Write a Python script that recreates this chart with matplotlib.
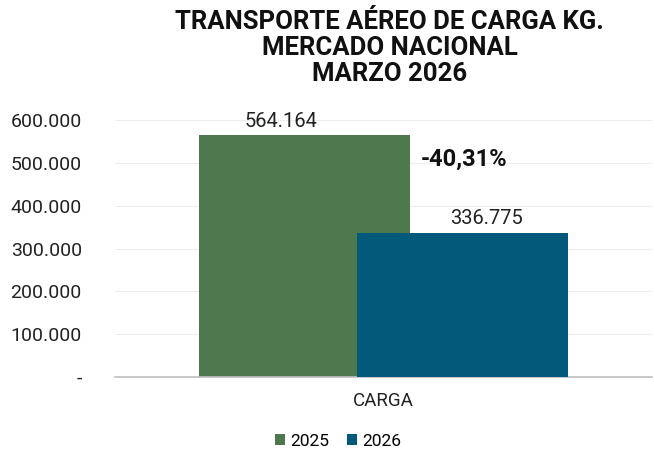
import numpy as np
import matplotlib.pyplot as plt

plt.rcParams['font.family'] = ['Roboto', 'DejaVu Sans']

categories = ['CARGA']
series = ['2025', '2026']
values_2025 = [564164]
values_2026 = [336775]
variation = '-40,31%'
colors = ['#4E784D', '#03597A']

def fmt_miles(v):
    if v == 0:
        return '-'
    return f'{v:,.0f}'.replace(',', '.')

fig = plt.figure(figsize=(6.54, 4.49), dpi=100)
ax = fig.add_axes([0.176, 0.160, 0.821, 0.573])

x = np.arange(len(categories))
w = 0.393
off = 0.1466
b1 = ax.bar(x - off, values_2025, w, color=colors[0], label=series[0], zorder=2)
b2 = ax.bar(x + off, values_2026, w, color=colors[1], label=series[1], zorder=3)

# excel pushes the labels outward a bit
for bars, vals, dx in [(b1, values_2025, -0.045), (b2, values_2026, 0.045)]:
    for r, v in zip(bars, vals):
        ax.text(r.get_x() + r.get_width() / 2 + dx, v + 11000, fmt_miles(v),
                ha='center', va='bottom', fontsize=14.5, color='#222222')

ax.text(x[0] + 0.07, 507000, variation, ha='left', va='center',
        fontsize=17, fontweight='bold', color='#111111')

ax.set_xlim(-0.5, 0.5)
ax.set_ylim(0, 600000)
ticks = np.arange(0, 600001, 100000)
ax.set_yticks(ticks)
ax.set_yticklabels([fmt_miles(t) for t in ticks])
ax.set_xticks(x)
ax.set_xticklabels(categories)
ax.tick_params(axis='both', length=0, colors='#222222')
ax.tick_params(axis='y', pad=24, labelsize=14)
ax.tick_params(axis='x', pad=11, labelsize=13.5)
ax.grid(axis='y', color='#EEEEEE', linewidth=0.8, zorder=0)
for s in ['top', 'right', 'left']:
    ax.spines[s].set_visible(False)
ax.spines['bottom'].set_color('#BFBFBF')
ax.spines['bottom'].set_linewidth(1.2)

fig.text(0.596, 0.978, 'TRANSPORTE AÉREO DE CARGA KG.\nMERCADO NACIONAL\nMARZO 2026',
         ha='center', va='top', fontsize=18.5, fontweight='bold', linespacing=1.12,
         color='#111111')

fig.legend(handles=[b1, b2], labels=series, loc='lower center',
           bbox_to_anchor=(0.517, -0.035), ncol=2, frameon=False, fontsize=12.5,
           handlelength=0.6, handleheight=0.6, handletextpad=0.3, columnspacing=1.0)

fig.savefig('out.png', dpi=100)
